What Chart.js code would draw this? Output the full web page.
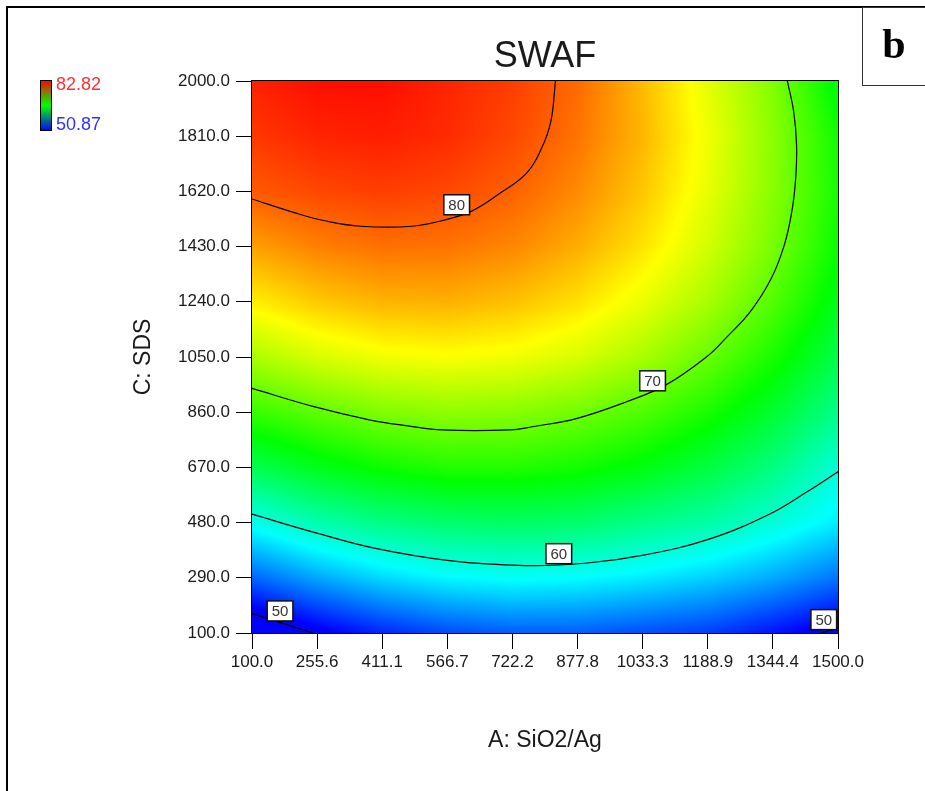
<!DOCTYPE html>
<html>
<head>
<meta charset="utf-8">
<title>SWAF</title>
<script src="https://cdn.jsdelivr.net/npm/chart.js@4.4.0/dist/chart.umd.min.js"></script>
<style>
  html, body { margin: 0; padding: 0; background: #fff; }
  #wrap { position: relative; width: 925px; height: 791px; }
</style>
</head>
<body>
<div id="wrap"><canvas id="contourChart"></canvas></div>
<script>
// factor levels, also used as tick positions
var sio2Ag = [100, 255.6, 411.1, 566.7, 722.2, 877.8, 1033.3, 1188.9, 1344.4, 1500];
var sds = [100, 290, 480, 670, 860, 1050, 1240, 1430, 1620, 1810, 2000];

var swaf100  = [48.0, 50.3, 52.0, 53.2, 53.8, 53.8, 53.3, 52.8, 51.4, 49.8];
var swaf290  = [54.0, 56.1, 57.7, 58.7, 59.1, 58.9, 58.3, 57.4, 56.2, 54.5];
var swaf480  = [59.4, 61.4, 62.7, 63.5, 63.8, 63.5, 62.6, 61.7, 60.1, 58.3];
var swaf670  = [64.3, 66.0, 67.2, 67.9, 67.9, 67.4, 66.4, 64.9, 62.9, 60.1];
var swaf860  = [68.5, 69.8, 70.8, 71.3, 71.1, 70.4, 69.3, 67.6, 65.4, 62.6];
var swaf1050 = [72.2, 73.6, 74.4, 74.7, 74.4, 73.6, 72.1, 70.1, 67.6, 64.6];
var swaf1240 = [75.3, 76.5, 77.2, 77.3, 76.8, 75.8, 74.2, 72.1, 69.4, 66.1];
var swaf1430 = [77.8, 78.8, 79.3, 79.2, 78.6, 77.4, 75.7, 73.4, 70.6, 67.1];
var swaf1620 = [80.0, 80.6, 80.9, 80.6, 79.8, 78.5, 76.6, 74.1, 71.1, 67.5];
var swaf1810 = [81.1, 81.7, 81.9, 81.5, 80.6, 79.2, 77.1, 74.4, 71.2, 67.3];
var swaf2000 = [81.8, 82.4, 82.4, 81.7, 80.9, 79.5, 77.0, 74.0, 70.9, 66.3];
var swafRows = [swaf100, swaf290, swaf480, swaf670, swaf860, swaf1050, swaf1240, swaf1430, swaf1620, swaf1810, swaf2000];

var legendMax = 82.82;
var legendMin = 50.87;

// contour lines as [SiO2/Ag, SDS] pairs
var contour80 = [[100, 1594], [203, 1546], [274, 1519], [360, 1500], [482, 1500], [564, 1523], [626, 1553], [688, 1609], [756, 1683], [792, 1769], [814, 1861], [825, 2000]];
var contour70 = [[100, 942], [248, 879], [383, 833], [473, 813], [554, 799], [716, 799], [770, 810], [877, 839], [995, 896], [1089, 954], [1188, 1053], [1232, 1115], [1291, 1207], [1341, 1322], [1372, 1437], [1390, 1553], [1399, 1666], [1401, 1781], [1394, 1896], [1379, 2000]];
var contour60 = [[100, 509], [257, 443], [392, 392], [572, 349], [752, 332], [896, 340], [1039, 369], [1192, 423], [1336, 509], [1426, 586], [1500, 655]];
var contour50a = [[100, 167], [172, 134], [246, 100]];
var contour50b = [[1459, 100], [1500, 117]];

var labelText = ['80', '70', '60', '50', '50'];
var labelA = [589, 1057, 833, 167, 1466];
var labelC = [1574, 968, 373, 176, 146];

Chart.defaults.font.family = '"Liberation Sans", Arial, sans-serif';

// blue - cyan - green - yellow - red
var stops = [[0, 0, 255], [0, 255, 255], [0, 255, 0], [255, 255, 0], [255, 0, 0]];
function swafColor(v) {
  var t = (v - legendMin) / (legendMax - legendMin);
  t = Math.max(0, Math.min(1, t)) * 4;
  var k = Math.min(3, Math.floor(t));
  var f = t - k;
  var c0 = stops[k], c1 = stops[k + 1];
  return [c0[0] + (c1[0] - c0[0]) * f, c0[1] + (c1[1] - c0[1]) * f, c0[2] + (c1[2] - c0[2]) * f];
}

function findCell(levels, v) {
  for (var i = 0; i < levels.length - 2; i++) {
    if (v < levels[i + 1]) return i;
  }
  return levels.length - 2;
}

function cellLookup(levels, v) {
  var i = findCell(levels, v);
  var f = (v - levels[i]) / (levels[i + 1] - levels[i]);
  return {i: i, f: Math.max(0, Math.min(1, f))};
}

var heatmapPlugin = {
  id: 'heatmap',
  beforeDatasetsDraw: function (chart) {
    var area = chart.chartArea, xs = chart.scales.x, ys = chart.scales.y;
    var left = Math.round(area.left), top = Math.round(area.top);
    var w = Math.round(area.right) - left, h = Math.round(area.bottom) - top;
    var img = chart.ctx.createImageData(w, h);
    var cols = [], rows = [];
    for (var px = 0; px < w; px++) cols.push(cellLookup(sio2Ag, xs.getValueForPixel(left + px + 0.5)));
    for (var py = 0; py < h; py++) rows.push(cellLookup(sds, ys.getValueForPixel(top + py + 0.5)));
    for (py = 0; py < h; py++) {
      var r = rows[py], lo = swafRows[r.i], hi = swafRows[r.i + 1];
      for (px = 0; px < w; px++) {
        var c = cols[px];
        var vLo = lo[c.i] + (lo[c.i + 1] - lo[c.i]) * c.f;
        var vHi = hi[c.i] + (hi[c.i + 1] - hi[c.i]) * c.f;
        var rgb = swafColor(vLo + (vHi - vLo) * r.f);
        var k = (py * w + px) * 4;
        img.data[k] = rgb[0];
        img.data[k + 1] = rgb[1];
        img.data[k + 2] = rgb[2];
        img.data[k + 3] = 255;
      }
    }
    chart.ctx.putImageData(img, left, top);
  }
};

var labelPlugin = {
  id: 'contourLabels',
  afterDatasetsDraw: function (chart) {
    var ctx = chart.ctx, area = chart.chartArea, xs = chart.scales.x, ys = chart.scales.y;
    ctx.save();
    // plot frame
    ctx.strokeStyle = '#000';
    ctx.lineWidth = 1;
    ctx.strokeRect(Math.round(area.left) - 0.5, Math.round(area.top) - 0.5, Math.round(area.right - area.left) + 1, Math.round(area.bottom - area.top) + 1);
    ctx.font = '15px "Liberation Sans", Arial, sans-serif';
    ctx.textAlign = 'center';
    ctx.textBaseline = 'middle';
    for (var i = 0; i < labelText.length; i++) {
      var px = xs.getPixelForValue(labelA[i]);
      var py = ys.getPixelForValue(labelC[i]);
      var bw = ctx.measureText(labelText[i]).width + 9;
      var bh = 20;
      ctx.fillStyle = '#fff';
      ctx.fillRect(px - bw / 2, py - bh / 2, bw, bh);
      ctx.lineWidth = 1.5;
      ctx.strokeStyle = '#111';
      ctx.strokeRect(px - bw / 2, py - bh / 2, bw, bh);
      ctx.fillStyle = '#333';
      ctx.fillText(labelText[i], px, py + 1);
    }
    ctx.restore();
  }
};

var decorPlugin = {
  id: 'decor',
  afterDraw: function (chart) {
    var ctx = chart.ctx;
    ctx.save();
    // outer frame
    ctx.strokeStyle = '#000';
    ctx.lineWidth = 2;
    ctx.beginPath();
    ctx.moveTo(7, 800);
    ctx.lineTo(7, 7);
    ctx.lineTo(940, 7);
    ctx.stroke();

    // panel letter box
    ctx.lineWidth = 1;
    ctx.strokeStyle = '#333';
    ctx.strokeRect(862.5, 7.5, 80, 78);
    ctx.fillStyle = '#000';
    ctx.font = 'bold 42px "Liberation Serif", "Times New Roman", serif';
    ctx.textAlign = 'center';
    ctx.textBaseline = 'alphabetic';
    ctx.fillText('b', 894, 58);

    // title
    ctx.font = '36px "Liberation Sans", Arial, sans-serif';
    ctx.fillStyle = '#1a1a1a';
    ctx.textBaseline = 'middle';
    ctx.fillText('SWAF', (chart.chartArea.left + chart.chartArea.right) / 2, 57);

    // colour key
    var g = ctx.createLinearGradient(0, 80, 0, 131);
    g.addColorStop(0, 'rgb(255,0,0)');
    g.addColorStop(0.5, 'rgb(0,255,0)');
    g.addColorStop(1, 'rgb(0,0,255)');
    ctx.fillStyle = g;
    ctx.fillRect(40, 80, 12, 51);
    ctx.strokeStyle = '#000';
    ctx.strokeRect(40.5, 80.5, 11, 50);
    ctx.font = '18px "Liberation Sans", Arial, sans-serif';
    ctx.textAlign = 'left';
    ctx.fillStyle = '#ff3030';
    ctx.fillText(legendMax.toFixed(2), 56, 85);
    ctx.fillStyle = '#3030ff';
    ctx.fillText(legendMin.toFixed(2), 56, 125);
    ctx.restore();
  }
};

function toPoints(pairs) {
  return pairs.map(function (p) { return {x: p[0], y: p[1]}; });
}

var contourSets = [contour80, contour70, contour60, contour50a, contour50b].map(function (pairs) {
  return {
    data: toPoints(pairs),
    showLine: true,
    borderColor: '#000',
    borderWidth: 1.2,
    pointRadius: 0,
    tension: 0.4,
    fill: false
  };
});

var tickFont = {size: 17};
var titleFont = {size: 23};

new Chart(document.getElementById('contourChart'), {
  type: 'scatter',
  data: {datasets: contourSets},
  options: {
    responsive: true,
    maintainAspectRatio: false,
    animation: false,
    layout: {padding: {top: 81, right: 87, left: 0, bottom: 0}},
    plugins: {
      legend: {display: false},
      tooltip: {enabled: false}
    },
    scales: {
      x: {
        type: 'linear',
        min: 100,
        max: 1500,
        afterBuildTicks: function (scale) {
          scale.ticks = sio2Ag.map(function (v) { return {value: v}; });
        },
        afterFit: function (scale) { scale.height = 158; },
        ticks: {
          autoSkip: false,
          maxRotation: 0,
          padding: 3,
          color: '#1a1a1a',
          font: tickFont,
          callback: function (v) { return Number(v).toFixed(1); }
        },
        grid: {drawOnChartArea: false, drawTicks: true, tickLength: 16, color: '#000'},
        border: {display: true, color: '#000'},
        title: {display: true, text: 'A: SiO2/Ag', color: '#1a1a1a', font: titleFont, padding: {top: 0, bottom: 37}}
      },
      y: {
        type: 'linear',
        min: 100,
        max: 2000,
        afterBuildTicks: function (scale) {
          scale.ticks = sds.map(function (v) { return {value: v}; });
        },
        afterFit: function (scale) { scale.width = 252; },
        ticks: {
          autoSkip: false,
          padding: 6,
          color: '#1a1a1a',
          font: tickFont,
          callback: function (v) { return Number(v).toFixed(1); }
        },
        grid: {drawOnChartArea: false, drawTicks: true, tickLength: 16, color: '#000'},
        border: {display: true, color: '#000'},
        title: {display: true, text: 'C: SDS', color: '#1a1a1a', font: titleFont, padding: {top: 130, bottom: 0}}
      }
    }
  },
  plugins: [heatmapPlugin, labelPlugin, decorPlugin]
});
</script>
</body>
</html>
